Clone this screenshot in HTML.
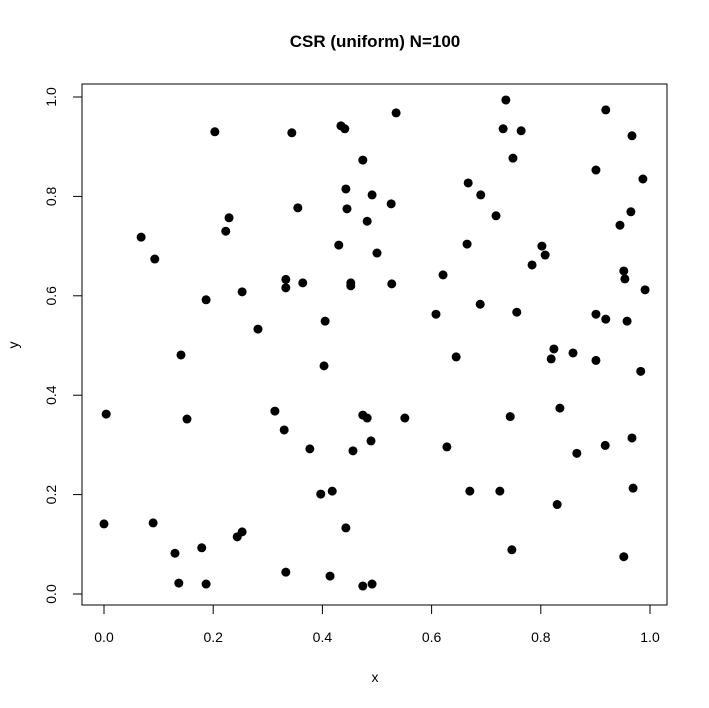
<!DOCTYPE html>
<html><head><meta charset="utf-8"><style>
body{margin:0;background:#fff}
svg{display:block;font-family:"Liberation Sans",Arial,sans-serif}
</style></head><body>
<svg id="chart" width="709" height="708">
<text x="375" y="47" text-anchor="middle" font-size="17" font-weight="bold">CSR (uniform) N=100</text>
<rect x="82" y="84" width="585" height="521" fill="none" stroke="#000" stroke-width="1"/>
<g id="xaxis"></g>
<g id="yaxis"></g>
<g id="points"></g>
<text x="375" y="682" text-anchor="middle" font-size="14">x</text>
<text x="18" y="345" text-anchor="middle" font-size="14" transform="rotate(-90 18 345)">y</text>
</svg>
<script>
const xTicks=[0,0.2,0.4,0.6,0.8,1.0];
const yTicks=[0,0.2,0.4,0.6,0.8,1.0];
const tickLabels=["0.0","0.2","0.4","0.6","0.8","1.0"];
const xs=[0.068,0.093,0.229,0.223,0.187,0.253,0.282,0.141,0.004,0.152,0.313,0,0.090,0.253,0.244,0.130,0.179,0.137,0.187,0.203,
0.344,0.434,0.441,0.535,0.474,0.443,0.491,0.667,0.355,0.445,0.526,0.482,0.430,0.500,0.665,0.333,0.333,0.364,0.452,0.452,0.527,0.621,0.608,0.405,0.403,0.645,0.474,0.482,0.551,0.330,0.377,0.456,0.489,0.628,0.397,0.418,0.670,0.443,0.333,0.414,0.474,0.491,
0.736,0.919,0.731,0.764,0.967,0.749,0.901,0.987,0.690,0.718,0.965,0.945,0.802,0.808,0.784,0.952,0.954,0.991,0.689,0.756,0.901,0.919,0.958,0.824,0.819,0.859,0.901,0.983,0.835,0.744,0.866,0.918,0.967,0.725,0.969,0.830,0.747,0.952];
const ys=[0.718,0.674,0.757,0.730,0.592,0.608,0.533,0.481,0.362,0.352,0.368,0.141,0.143,0.125,0.115,0.082,0.093,0.022,0.020,0.930,
0.928,0.942,0.936,0.968,0.873,0.815,0.803,0.827,0.777,0.775,0.785,0.750,0.702,0.686,0.704,0.633,0.616,0.626,0.626,0.620,0.624,0.642,0.563,0.549,0.459,0.477,0.360,0.354,0.354,0.330,0.292,0.288,0.308,0.296,0.201,0.207,0.207,0.133,0.044,0.036,0.016,0.020,
0.994,0.974,0.936,0.932,0.922,0.877,0.853,0.835,0.803,0.761,0.769,0.742,0.700,0.682,0.662,0.650,0.634,0.612,0.583,0.567,0.563,0.553,0.549,0.493,0.473,0.485,0.470,0.448,0.374,0.357,0.283,0.299,0.314,0.207,0.213,0.180,0.089,0.075];
const NS="http://www.w3.org/2000/svg";
const sx=v=>104+v*546;
const sy=v=>594-v*497;
function mk(tag,attrs,parent){const e=document.createElementNS(NS,tag);for(const k in attrs)e.setAttribute(k,attrs[k]);parent.appendChild(e);return e;}
const xa=document.getElementById('xaxis'),ya=document.getElementById('yaxis'),pg=document.getElementById('points');
let l=mk('line',{x1:sx(0),x2:sx(1),y1:605,y2:605,stroke:'#000'},xa);


xTicks.forEach((t,i)=>{
 const tk=mk('line',{x1:sx(t),x2:sx(t),y1:605,y2:614,stroke:'#000'},xa);
 
 
 const tx=mk('text',{x:sx(t),y:642,'text-anchor':'middle','font-size':'14'},xa);
 tx.textContent=tickLabels[i];
 
 
});
yTicks.forEach((t,i)=>{
 const tk=mk('line',{x1:73,x2:82,y1:sy(t),y2:sy(t),stroke:'#000'},ya);
 
 
 const tx=mk('text',{x:56,y:sy(t),'text-anchor':'middle','font-size':'14',transform:`rotate(-90 56 ${sy(t)})`},ya);
 tx.textContent=tickLabels[i];
 
 
});
xs.forEach((x,i)=>{
 const c=mk('circle',{cx:sx(x),cy:sy(ys[i]),r:4.5,fill:'#000'},pg);
 
 
});
</script>
</body></html>
